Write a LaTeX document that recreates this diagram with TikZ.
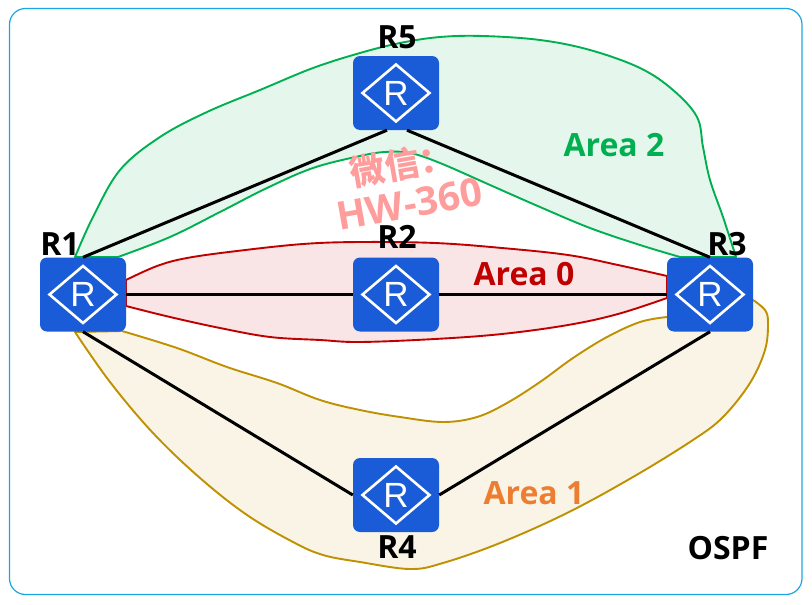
\documentclass[tikz,border=0pt]{standalone}
\usepackage{fontspec}
\setmainfont{Open Sans}
\newfontfamily\routerfont{Liberation Sans}
\newfontfamily\cjkfont{Noto Sans CJK SC}
\usepackage{xcolor}
\definecolor{routerblue}{HTML}{1A5CD8}
\definecolor{framecyan}{HTML}{1AA7E0}
\definecolor{areagreen}{HTML}{00B050}
\definecolor{areared}{HTML}{C00000}
\definecolor{areagold}{HTML}{BF9000}
\definecolor{areaorange}{HTML}{ED7D31}
\definecolor{markpink}{HTML}{FF9C9C}
\tikzset{
  routerbox/.style={rectangle, rounded corners=7pt, fill=routerblue, minimum width=86pt, minimum height=74pt,
    inner sep=0pt, text=white, font=\routerfont\fontsize{35}{35}\selectfont,
    path picture={
      \draw[white, line width=2.6pt, sharp corners, line join=miter]
        ([xshift=-33.5pt]path picture bounding box.center) -- ([yshift=28.5pt]path picture bounding box.center)
        -- ([xshift=33.5pt]path picture bounding box.center) -- ([yshift=-28.5pt]path picture bounding box.center) -- cycle;
    }},
  routername/.style={font=\bfseries\fontsize{32}{32}\selectfont, text=black, inner sep=0pt},
  arealabel/.style={font=\bfseries\fontsize{32}{32}\selectfont, inner sep=0pt},
  linkline/.style={black, line width=3pt},
  areashape/.style={line width=1.9pt, line join=round},
  markline/.style={text=markpink, inner sep=0pt, rotate=10},
}
\begin{document}
\begin{tikzpicture}[x=1pt, y=-1pt]
  \useasboundingbox (0,0) rectangle (812,605);
  \draw[framecyan, line width=1.2pt, rounded corners=16pt] (9.5,8.5) rectangle (802,594.5);

  % Areas
  \draw[areashape, draw=areagreen, fill=areagreen!10]
    plot[smooth, tension=0.6] coordinates {(75,257) (93,217) (120,170) (160,137) (207,112) (260,90) (313,68) (360,53) (400,43) (440,37) (483,36) (540,40) (590,50) (640,68) (673,90) (697,117) (703,147) (710,180) (723,217) (736,257)}
    -- (680,257)
    -- plot[smooth, tension=0.6] coordinates {(680,257) (640,245) (590,228) (540,207) (490,185) (440,163) (410,153) (385,152) (360,156) (313,168) (267,188) (220,212) (170,237) (118,257)}
    -- cycle;
  \draw[areashape, draw=areared, fill=areared!10]
    plot[smooth, tension=0.6] coordinates {(126,280) (157,266) (187,258) (237,251) (303,244) (360,242) (435,243) (502,248) (568,255) (618,265) (667,276)}
    -- plot[smooth, tension=0.6] coordinates {(667,298) (618,314) (568,325) (502,334) (435,339) (360,342) (320,340) (270,337) (220,328) (170,317) (126,306)}
    -- cycle;
  \draw[areashape, draw=areagold, fill=areagold!10]
    plot[smooth, tension=0.6] coordinates {(75,332) (110,382) (153,433) (200,478) (247,515) (293,542) (323,555) (360,562) (410,569) (443,563) (500,543) (567,513) (633,477) (693,440) (723,417) (750,383) (765,350) (768,323) (765,310) (753,300)}
    -- (667,317)
    -- plot[smooth, tension=0.6] coordinates {(667,317) (640,322) (607,337) (573,358) (540,382) (507,403) (477,417) (443,422) (400,417) (360,410) (320,400) (277,383) (227,367) (177,348) (122,331)}
    -- cycle;

  % Routers
  \node[routerbox] (r1) at (83,294.5) {R};
  \node[routerbox] (r2) at (396,294.5) {R};
  \node[routerbox] (r3) at (710,294.5) {R};
  \node[routerbox] (r4) at (396,495) {R};
  \node[routerbox] (r5) at (396,93) {R};

  \node[routername] (nameR1) at (60,244) {R1};
  \node[routername] (nameR2) at (397,237) {R2};
  \node[routername] (nameR3) at (727,244) {R3};
  \node[routername] (nameR4) at (397,547) {R4};
  \node[routername] (nameR5) at (397,37) {R5};

  % Links
  \draw[linkline] (r1.north) -- ([xshift=-9pt]r5.south);
  \draw[linkline] ([xshift=11pt]r5.south) -- (r3.north);
  \draw[linkline] (r1) -- (r2);
  \draw[linkline] (r2) -- (r3);
  \draw[linkline] (r1.south) -- (r4.west);
  \draw[linkline] (r4.east) -- (r3.south);

  \node[arealabel, text=areagreen] (area2) at (614,145) {Area 2};
  \node[arealabel, text=areared] (area0) at (524,274) {Area 0};
  \node[arealabel, text=areaorange] (area1) at (534,493) {Area 1};
  \node[arealabel, text=black] (ospf) at (728,548) {OSPF};

  \node[markline, font=\cjkfont\bfseries\fontsize{35}{35}\selectfont] (mark1) at (402,164) {微信：};
  \node[markline, font=\fontsize{39}{39}\selectfont\bfseries] (mark2) at (409.5,204) {HW-360};
\end{tikzpicture}
\end{document}
